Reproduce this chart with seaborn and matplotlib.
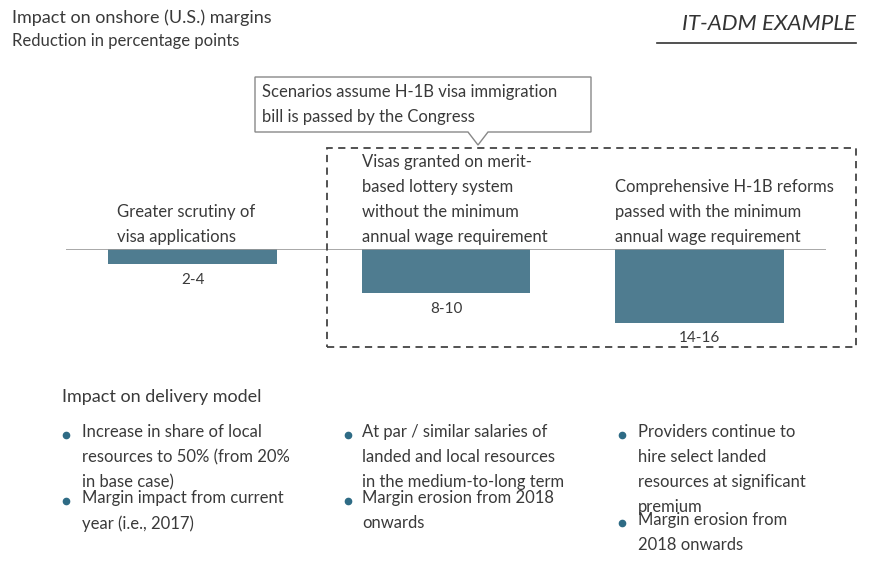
import matplotlib
matplotlib.use("Agg")
import matplotlib.pyplot as plt
import seaborn as sns
import pandas as pd
from matplotlib.patches import Rectangle, Polygon
from matplotlib.lines import Line2D

SCENARIOS = ["Greater scrutiny of\nvisa applications",
             "Visas granted on merit-\nbased lottery system\nwithout the minimum\nannual wage requirement",
             "Comprehensive H-1B reforms\npassed with the minimum\nannual wage requirement"]
REDUCTION_MID = [3, 9, 15]
RANGE_LABELS = ["2-4", "8-10", "14-16"]
BULLETS = [
    ["Increase in share of local\nresources to 50% (from 20%\nin base case)", "Margin impact from current\nyear (i.e., 2017)"],
    ["At par / similar salaries of\nlanded and local resources\nin the medium-to-long term", "Margin erosion from 2018\nonwards"],
    ["Providers continue to\nhire select landed\nresources at significant\npremium", "Margin erosion from\n2018 onwards"],
]

W, H = 871, 569
TXT = "#3a3a3a"
BAR = "#4f7c90"
LS = 1.68
plt.rcParams["font.family"] = "Lato"

fig = plt.figure(figsize=(W / 100, H / 100), dpi=100)


def fx(px):
    return px / W


def fy(py):
    return 1 - py / H


def ftext(x, y, s, **kw):
    kw.setdefault("color", TXT)
    kw.setdefault("fontsize", 12)
    kw.setdefault("va", "top")
    kw.setdefault("linespacing", LS)
    fig.text(fx(x), fy(y), s, **kw)


# bar axes: baseline at y=249px, 4.9 px per point
top, bottom = 249, 249 + 17 * 4.9
ax = fig.add_axes([fx(66), fy(bottom), fx(826) - fx(66), (bottom - top) / H])
df = pd.DataFrame({"x": RANGE_LABELS, "y": [-v for v in REDUCTION_MID]})
sns.barplot(data=df, x="x", y="y", color=BAR, width=0.665, saturation=1, ax=ax)
ax.set_xlim(-0.5, 2.5)
ax.set_ylim(-17, 0)
ax.axis("off")
ax.axhline(0, color="#999999", lw=1.2)
text_left = [-0.297, -0.333, -0.333]
for i, (v, lab) in enumerate(zip(REDUCTION_MID, RANGE_LABELS)):
    ax.text(i, -v - 1.8, lab, ha="center", va="top", color=TXT, fontsize=11)
    ax.text(i + text_left[i], 0.9, SCENARIOS[i], ha="left", va="bottom", color=TXT,
            fontsize=12, linespacing=LS)

# header
ftext(12, 9, "Impact on onshore (U.S.) margins", fontsize=13)
ftext(12, 33, "Reduction in percentage points", fontsize=12)
ftext(856, 14, "IT-ADM EXAMPLE", fontsize=16, style="italic", ha="right", color="#333333")
fig.add_artist(Line2D([fx(657), fx(856)], [fy(43), fy(43)], color="#333333", lw=1.2))

# dashed box
fig.add_artist(Rectangle((fx(327), fy(347)), fx(856) - fx(327), fy(148) - fy(347),
                         fill=False, ls=(0, (4, 3)), lw=1.3, ec="#444444"))

# callout
pts = [(255, 77), (591, 77), (591, 132), (488, 132), (478, 145), (468, 132), (255, 132)]
fig.add_artist(Polygon([(fx(a), fy(b)) for a, b in pts], closed=True,
                       fill=True, fc="white", ec="#888888", lw=1))
ftext(262, 84, "Scenarios assume H-1B visa immigration\nbill is passed by the Congress")

# delivery model
ftext(62, 389, "Impact on delivery model", fontsize=13)
cols = [(66, 82), (348, 362), (622, 638)]
for (dx, tx), items in zip(cols, BULLETS):
    y = 424
    for item in items:
        fig.add_artist(Line2D([fx(dx)], [fy(y + 11)], marker="o", ms=4.5, color="#2e6b85"))
        ftext(tx, y, item)
        y += 22 * (item.count("\n") + 1)

fig.savefig("out.png", dpi=100)
